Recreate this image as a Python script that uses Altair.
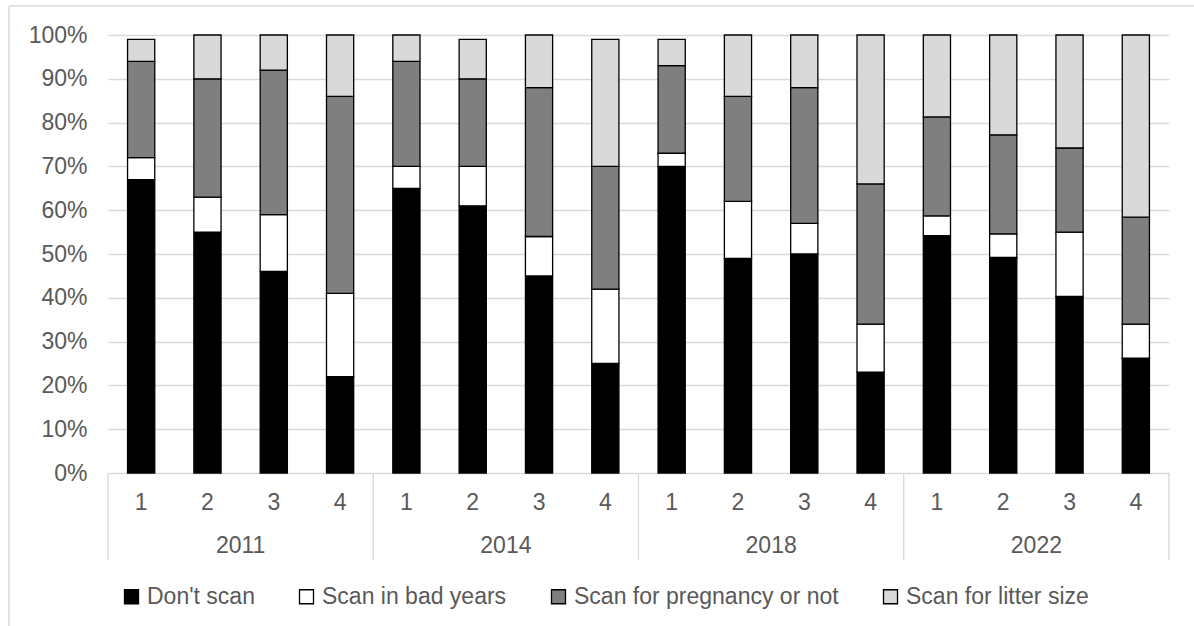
import altair as alt
import pandas as pd

years = ["2011", "2014", "2018", "2022"]
quarters = ["1", "2", "3", "4"]
series = ["Don't scan", "Scan in bad years", "Scan for pregnancy or not", "Scan for litter size"]
colors = ["#000000", "#ffffff", "#7f7f7f", "#d9d9d9"]

dont_scan = [67, 55, 46, 22, 65, 61, 45, 25, 70, 49, 50, 23, 54.2, 49.2, 40.3, 26.2]
bad_years = [5, 8, 13, 19, 5, 9, 9, 17, 3, 13, 7, 11, 4.5, 5.4, 14.7, 7.8]
pregnancy = [22, 27, 33, 45, 24, 20, 34, 28, 20, 24, 31, 32, 22.6, 22.6, 19.2, 24.4]
litter = [5, 10, 8, 14, 6, 9, 12, 29, 6, 14, 12, 34, 18.7, 22.8, 25.8, 41.6]

rows = []
for k, (name, vals) in enumerate(zip(series, [dont_scan, bad_years, pregnancy, litter])):
    for b, v in enumerate(vals):
        rows.append({"bar": b, "year": years[b // 4], "q": quarters[b % 4],
                     "series": name, "k": k, "value": v})
df = pd.DataFrame(rows)

bar_df = pd.DataFrame({"bar": list(range(16)),
                       "q": [quarters[b % 4] for b in range(16)]})
year_df = pd.DataFrame({"g": list(range(4)), "year": years})
sep_df = pd.DataFrame({"edge": [0, 4, 8, 12, 16]})
one_df = pd.DataFrame({"a": [0]})

W, H = 1061, 438
FONT = "Liberation Sans"
TXT = "#595959"
GRID = "#d9d9d9"

xscale = alt.Scale(domain=[0, 16], nice=False, zero=False)

bars = alt.Chart(df).transform_stack(
    stack="value", groupby=["bar"], as_=["v0", "v1"],
    sort=[alt.SortField("k", order="ascending")]
).transform_calculate(
    xa="datum.bar + 0.295", xb="datum.bar + 0.705"
).mark_bar(stroke="black", strokeWidth=1.3).encode(
    x=alt.X("xa:Q", scale=xscale, axis=None),
    x2="xb:Q",
    y=alt.Y("v0:Q", scale=alt.Scale(domain=[0, 100], nice=False),
            axis=alt.Axis(values=list(range(0, 101, 10)), labelExpr="datum.value + '%'",
                          title=None, domain=False, ticks=False, grid=True,
                          gridColor=GRID, gridWidth=1.3, labelFont=FONT,
                          labelFontSize=23, labelColor=TXT, labelPadding=21)),
    y2="v1:Q",
    color=alt.Color("series:N", scale=alt.Scale(domain=series, range=colors),
                    legend=alt.Legend(title=None, orient="none", direction="horizontal",
                                      legendX=12, legendY=550, symbolType="square",
                                      symbolSize=196, symbolStrokeColor="black",
                                      symbolStrokeWidth=1.3, labelFont=FONT,
                                      labelFontSize=23, labelColor=TXT, labelOffset=4,
                                      labelLimit=0, columnPadding=40, padding=0)),
)

seps = alt.Chart(sep_df).mark_rule(color=GRID, strokeWidth=1.3).encode(
    x=alt.X("edge:Q", scale=xscale),
    y=alt.value(H),
    y2=alt.value(H + 87),
)

qlabels = alt.Chart(bar_df).transform_calculate(pos="datum.bar + 0.5").mark_text(
    font=FONT, fontSize=23, color=TXT, baseline="middle"
).encode(
    x=alt.X("pos:Q", scale=xscale),
    y=alt.value(H + 30),
    text="q:N",
)

ylabels = alt.Chart(year_df).transform_calculate(pos="datum.g * 4 + 2").mark_text(
    font=FONT, fontSize=23, color=TXT, baseline="middle"
).encode(
    x=alt.X("pos:Q", scale=xscale),
    y=alt.value(H + 73),
    text="year:N",
)

frame_top = alt.Chart(one_df).mark_rule(color=GRID, strokeWidth=1.5).encode(
    x=alt.value(-99), x2=alt.value(W + 40), y=alt.value(-29)
)
frame_left = alt.Chart(one_df).mark_rule(color=GRID, strokeWidth=1.5).encode(
    x=alt.value(-99), y=alt.value(-29), y2=alt.value(H + 200)
)

chart = alt.layer(frame_top, frame_left, bars, seps, qlabels, ylabels).properties(
    width=W, height=H,
    autosize=alt.AutoSizeParams(type="none"),
    padding={"left": 108, "top": 35, "right": 25, "bottom": 153},
    background="white",
).configure_view(stroke=None)

chart.save("out.html", embed_options={"renderer": "svg", "actions": False})
